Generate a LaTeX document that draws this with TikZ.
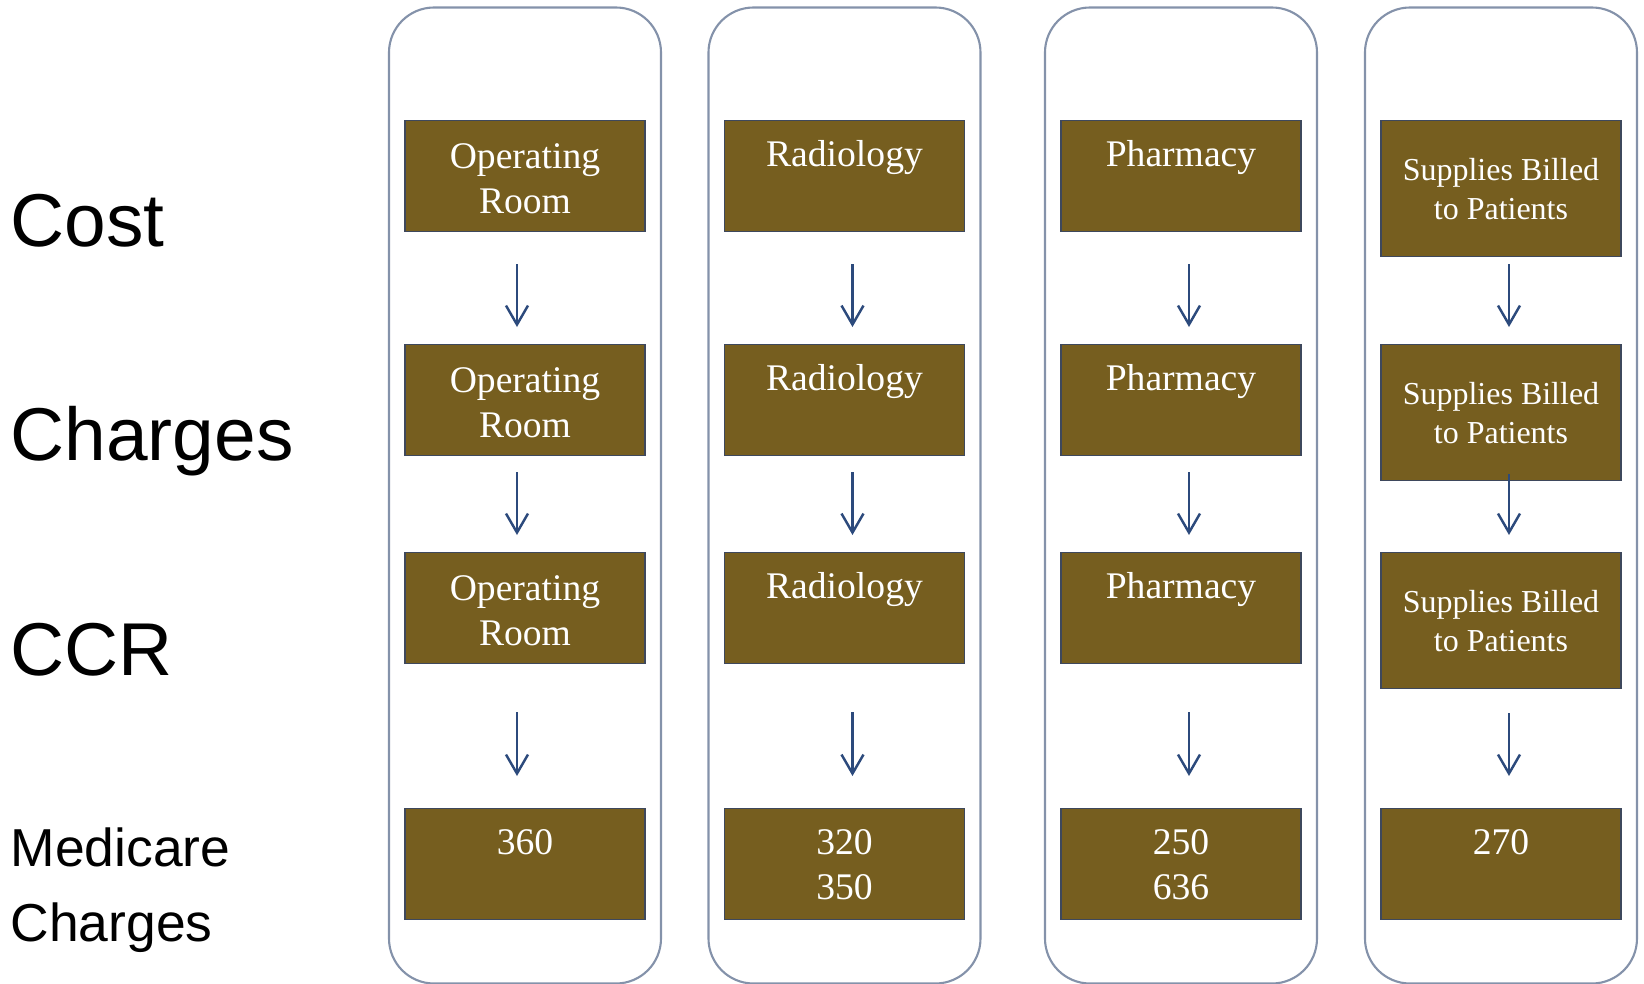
\documentclass[tikz,border=0pt]{standalone}
\usepackage{fontspec}
\setmainfont{Liberation Serif}
\setsansfont{Liberation Sans}
\usetikzlibrary{arrows.meta}

\definecolor{boxbrown}{RGB}{118,94,31}
\definecolor{celledge}{RGB}{62,72,92}
\definecolor{lanegray}{RGB}{132,146,170}
\definecolor{arrowblue}{RGB}{44,74,124}

\begin{document}
\begin{tikzpicture}[
    lane/.style={draw=lanegray, line width=0.6pt, rounded corners=0.45cm,
        minimum width=2.72cm, minimum height=9.76cm, inner sep=0pt},
    cell/.style={draw=celledge, line width=0.4pt, fill=boxbrown,
        minimum width=2.40cm, minimum height=1.11cm, inner sep=0pt, anchor=north},
    tallcell/.style={cell, minimum height=1.36cm},
    celltext/.style={text=white, font=\fontsize{10.7}{12.8}\selectfont,
        align=center, inner sep=0pt, anchor=north},
    smalltext/.style={celltext, font=\fontsize{9.1}{10.9}\selectfont},
    rowlabel/.style={font=\sffamily\fontsize{21.3}{25}\selectfont, inner sep=0pt, anchor=base west},
    flow/.style={draw=arrowblue, line width=0.7pt, -{Straight Barb[length=1.9mm,width=2.2mm]}}
]
\useasboundingbox (0,0) rectangle (16.44,-9.84);

% row labels
\node[rowlabel] (cost) at (0.10,-2.46) {Cost};
\node[rowlabel] (charges) at (0.10,-4.60) {Charges};
\node[rowlabel] (ccr) at (0.10,-6.75) {CCR};
\node[rowlabel, font=\sffamily\fontsize{15.2}{21.3}\selectfont, align=left, anchor=north west]
    (medicare) at (0.10,-8.27) {Medicare\\Charges};

% lanes
\node[lane] (lane1) at (5.25,-4.955) {};
\node[lane] (lane2) at (8.445,-4.955) {};
\node[lane] (lane3) at (11.81,-4.955) {};
\node[lane] (lane4) at (15.01,-4.955) {};

% operating room
\node[cell] (or1) at (5.25,-1.20) {};
\node[cell] (or2) at (5.25,-3.44) {};
\node[cell] (or3) at (5.25,-5.52) {};
\node[cell] (or4) at (5.25,-8.08) {};
\node[celltext] (or1t) at ([yshift=-0.23cm]or1.north) {Operating\\Room};
\node[celltext] (or2t) at ([yshift=-0.23cm]or2.north) {Operating\\Room};
\node[celltext] (or3t) at ([yshift=-0.23cm]or3.north) {Operating\\Room};
\node[celltext] (or4t) at ([yshift=-0.21cm]or4.north) {360};

% radiology
\node[cell] (rad1) at (8.445,-1.20) {};
\node[cell] (rad2) at (8.445,-3.44) {};
\node[cell] (rad3) at (8.445,-5.52) {};
\node[cell] (rad4) at (8.445,-8.08) {};
\node[celltext] (rad1t) at ([yshift=-0.20cm]rad1.north) {Radiology};
\node[celltext] (rad2t) at ([yshift=-0.20cm]rad2.north) {Radiology};
\node[celltext] (rad3t) at ([yshift=-0.20cm]rad3.north) {Radiology};
\node[celltext] (rad4t) at ([yshift=-0.21cm]rad4.north) {320\\350};

% pharmacy
\node[cell] (ph1) at (11.81,-1.20) {};
\node[cell] (ph2) at (11.81,-3.44) {};
\node[cell] (ph3) at (11.81,-5.52) {};
\node[cell] (ph4) at (11.81,-8.08) {};
\node[celltext] (ph1t) at ([yshift=-0.20cm]ph1.north) {Pharmacy};
\node[celltext] (ph2t) at ([yshift=-0.20cm]ph2.north) {Pharmacy};
\node[celltext] (ph3t) at ([yshift=-0.20cm]ph3.north) {Pharmacy};
\node[celltext] (ph4t) at ([yshift=-0.21cm]ph4.north) {250\\636};

% supplies
\node[tallcell] (sp1) at (15.01,-1.20) {};
\node[tallcell] (sp2) at (15.01,-3.44) {};
\node[tallcell] (sp3) at (15.01,-5.52) {};
\node[cell] (sp4) at (15.01,-8.08) {};
\node[smalltext] (sp1t) at ([yshift=-0.38cm]sp1.north) {Supplies Billed\\to Patients};
\node[smalltext] (sp2t) at ([yshift=-0.38cm]sp2.north) {Supplies Billed\\to Patients};
\node[smalltext] (sp3t) at ([yshift=-0.38cm]sp3.north) {Supplies Billed\\to Patients};
\node[celltext] (sp4t) at ([yshift=-0.21cm]sp4.north) {270};

% arrows
\draw[flow] ([xshift=-0.08cm,yshift=-0.32cm]or1.south) -- ([xshift=-0.08cm,yshift=0.17cm]or2.north);
\draw[flow] ([xshift=-0.08cm,yshift=-0.16cm]or2.south) -- ([xshift=-0.08cm,yshift=0.17cm]or3.north);
\draw[flow] ([xshift=-0.08cm,yshift=-0.48cm]or3.south) -- ([xshift=-0.08cm,yshift=0.32cm]or4.north);

\draw[flow] ([xshift=0.08cm,yshift=-0.32cm]rad1.south) -- ([xshift=0.08cm,yshift=0.17cm]rad2.north);
\draw[flow] ([xshift=0.08cm,yshift=-0.16cm]rad2.south) -- ([xshift=0.08cm,yshift=0.17cm]rad3.north);
\draw[flow] ([xshift=0.08cm,yshift=-0.48cm]rad3.south) -- ([xshift=0.08cm,yshift=0.32cm]rad4.north);

\draw[flow] ([xshift=0.08cm,yshift=-0.32cm]ph1.south) -- ([xshift=0.08cm,yshift=0.17cm]ph2.north);
\draw[flow] ([xshift=0.08cm,yshift=-0.16cm]ph2.south) -- ([xshift=0.08cm,yshift=0.17cm]ph3.north);
\draw[flow] ([xshift=0.08cm,yshift=-0.48cm]ph3.south) -- ([xshift=0.08cm,yshift=0.32cm]ph4.north);

\draw[flow] ([xshift=0.08cm,yshift=-0.07cm]sp1.south) -- ([xshift=0.08cm,yshift=0.17cm]sp2.north);
\draw[flow] ([xshift=0.08cm,yshift=0.07cm]sp2.south) -- ([xshift=0.08cm,yshift=0.17cm]sp3.north);
\draw[flow] ([xshift=0.08cm,yshift=-0.24cm]sp3.south) -- ([xshift=0.08cm,yshift=0.32cm]sp4.north);
\end{tikzpicture}
\end{document}
